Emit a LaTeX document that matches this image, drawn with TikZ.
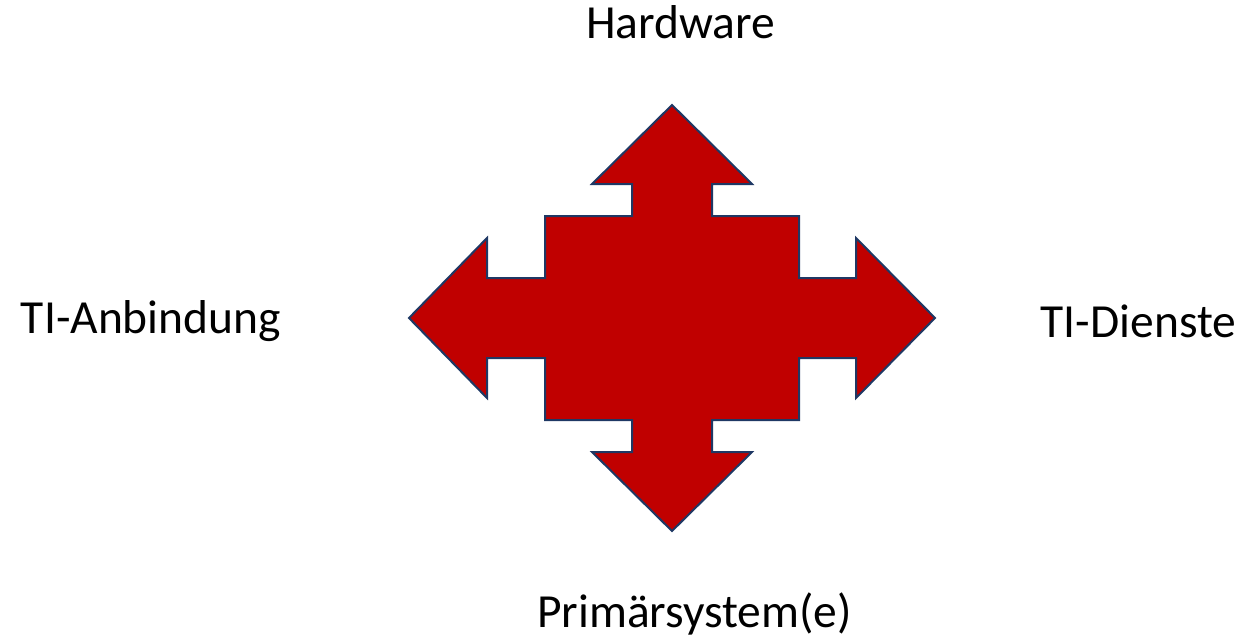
\documentclass[tikz,border=0pt]{standalone}
\usepackage{fontspec}
\setmainfont{Carlito}
\definecolor{arrowred}{RGB}{192,0,0}
\definecolor{arrowedge}{RGB}{31,56,100}
\tikzset{
  lbl/.style={inner sep=0pt, font=\fontsize{47.5}{57}\selectfont, text=black},
  quadarrow/.style={fill=arrowred, draw=arrowedge, line width=2pt, line join=miter}
}
\begin{document}
\begin{tikzpicture}[x=1pt,y=-1pt]
\useasboundingbox (0,0) rectangle (1238,642);
\draw[quadarrow]
  (672,105) -- (752,184) -- (712,184) -- (712,216) -- (799,216) -- (799,278)
  -- (856,278) -- (856,238) -- (935,318) -- (856,398) -- (856,358) -- (799,358)
  -- (799,420) -- (712,420) -- (712,452) -- (752,452) -- (672,531) -- (592,452)
  -- (632,452) -- (632,420) -- (545,420) -- (545,358) -- (487,358) -- (487,398)
  -- (409,318) -- (487,238) -- (487,278) -- (545,278) -- (545,216) -- (632,216)
  -- (632,184) -- (592,184) -- cycle;
\node[lbl, anchor=base] (hw) at (680.5,39) {Hardware};
\node[lbl, anchor=base west] (tia) at (20.7,333) {TI-Anbindung};
\node[lbl, anchor=base east] (tid) at (1236.5,337.5) {TI-Dienste};
\node[lbl, anchor=base] (ps) at (694.5,627) {Primärsystem(e)};
\end{tikzpicture}
\end{document}
